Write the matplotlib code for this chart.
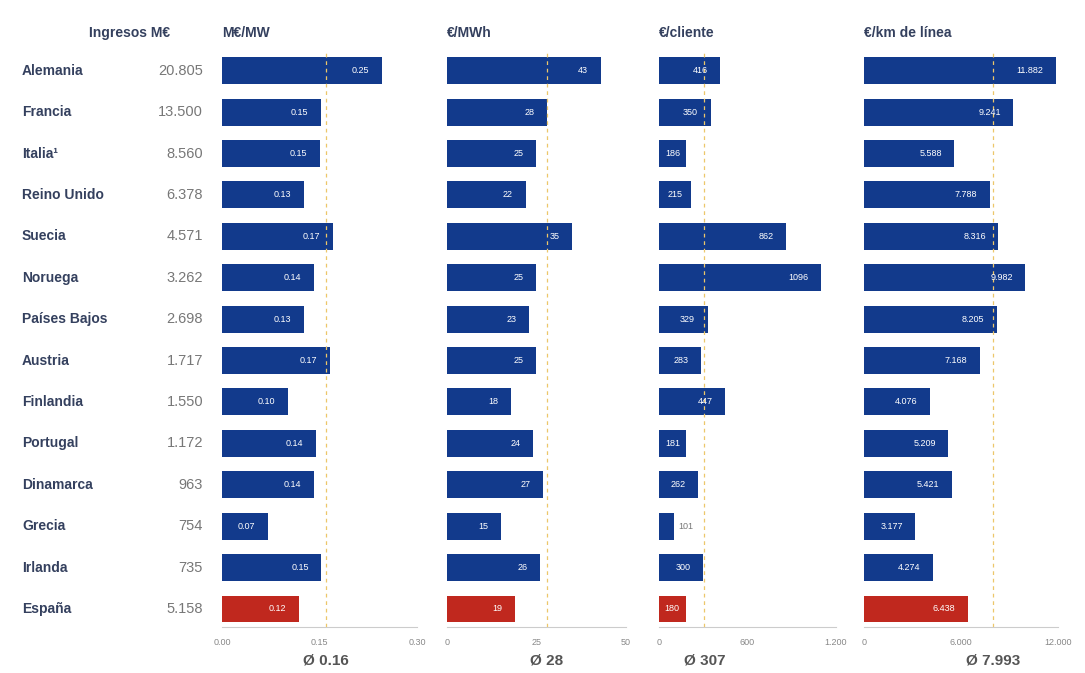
import matplotlib
matplotlib.use("Agg")
import matplotlib.pyplot as plt
import matplotlib.transforms as mtransforms
import numpy as np

plt.rcParams['font.family'] = ['Liberation Sans', 'DejaVu Sans']

## Data
paises = ['Alemania', 'Francia', 'Italia¹', 'Reino Unido', 'Suecia', 'Noruega', 'Países Bajos',
          'Austria', 'Finlandia', 'Portugal', 'Dinamarca', 'Grecia', 'Irlanda', 'España']
ingresos = [20805, 13500, 8560, 6378, 4571, 3262, 2698, 1717, 1550, 1172, 963, 754, 735, 5158]
mw = [0.246, 0.152, 0.150, 0.126, 0.170, 0.141, 0.126, 0.166, 0.101, 0.144, 0.141, 0.070, 0.153, 0.118]
mwh = [43, 28, 25, 22, 35, 25, 23, 25, 18, 24, 27, 15, 26, 19]
cliente = [416, 350, 186, 215, 862, 1096, 329, 283, 447, 181, 262, 101, 300, 180]
km = [11882, 9241, 5588, 7788, 8316, 9982, 8205, 7168, 4076, 5209, 5421, 3177, 4274, 6438]

titulos = ['M€/MW', '€/MWh', '€/cliente', '€/km de línea']
medias = [0.16, 28, 307, 7993]
medias_txt = ['Ø 0.16', 'Ø 28', 'Ø 307', 'Ø 7.993']
xmax = [0.30, 50, 1200, 12000]
ticks = [[0, 0.15, 0.30], [0, 25, 50], [0, 600, 1200], [0, 6000, 12000]]
tick_labels = [['0.00', '0.15', '0.30'], ['0', '25', '50'], ['0', '600', '1.200'], ['0', '6.000', '12.000']]


def miles(v):
    return f"{v:,.0f}".replace(",", ".")


fmts = [lambda v: f"{v:.2f}", lambda v: f"{v:.0f}", lambda v: f"{v:.0f}", miles]
series = [mw, mwh, cliente, km]

W, H = 1085, 673
fig = plt.figure(figsize=(W / 100, H / 100), dpi=100)
fig.patch.set_facecolor('white')

azul = '#123a8c'
rojo = '#c0281e'
texto = '#34405e'
gris = '#777777'

# panel positions in pixels (left, right)
paneles_px = [(222, 417), (447, 625.5), (659, 836), (864, 1058)]
top_px, bot_px = 50, 627

n = len(paises)
y = np.arange(n)
axes = []
for k, (l, r) in enumerate(paneles_px):
    ax = fig.add_axes([l / W, 1 - bot_px / H, (r - l) / W, (bot_px - top_px) / H])
    vals = series[k]
    colors = [rojo if p == 'España' else azul for p in paises]
    ax.barh(y, vals, height=0.65, color=colors, zorder=2)
    ax.set_xlim(0, xmax[k])
    ax.set_ylim(n - 1 + 0.435, -0.5)
    ax.axvline(medias[k], color='#ecc76a', linewidth=0.9, linestyle=(0, (3, 3)), zorder=3)
    for i, v in enumerate(vals):
        lab = fmts[k](v)
        ancho_px = v / xmax[k] * (r - l)
        if k == 2 and paises[i] == 'Grecia':
            ax.annotate(lab, xy=(v, i), xytext=(3, 0), textcoords='offset points',
                        ha='left', va='center', fontsize=6.5, color=gris, zorder=4)
        elif ancho_px < 40:
            # short bar: centre the label
            ax.annotate(lab, xy=(v / 2, i), ha='center', va='center',
                        fontsize=6.5, color='white', zorder=4)
        else:
            ax.annotate(lab, xy=(v, i), xytext=(-9, 0), textcoords='offset points',
                        ha='right', va='center', fontsize=6.5, color='white', zorder=4)
    for s in ['top', 'right', 'left']:
        ax.spines[s].set_visible(False)
    ax.spines['bottom'].set_color('#cccccc')
    ax.set_yticks([])
    ax.set_xticks(ticks[k])
    ax.set_xticklabels(tick_labels[k])
    ax.tick_params(axis='x', length=0, labelsize=6.5, labelcolor='#888888', pad=8)
    ax.annotate(medias_txt[k], xy=(medias[k], 0), xycoords=('data', 'axes fraction'),
                xytext=(0, -24), textcoords='offset points', ha='center', va='center',
                fontsize=11, fontweight='bold', color='#555555')
    fig.text(l / W, 1 - 33 / H, titulos[k], ha='left', va='center',
             fontsize=10, fontweight='bold', color=texto)
    axes.append(ax)

# country names and revenue column
trans = mtransforms.blended_transform_factory(fig.transFigure, axes[0].transData)
fig.text(170 / W, 1 - 33 / H, 'Ingresos M€', ha='right', va='center',
         fontsize=10, fontweight='bold', color=texto)
for i, p in enumerate(paises):
    fig.text(22 / W, i, p, transform=trans, ha='left', va='center',
             fontsize=10, fontweight='bold', color=texto)
    fig.text(203 / W, i, miles(ingresos[i]), transform=trans, ha='right', va='center',
             fontsize=10.5, color=gris)

plt.savefig("out.png", dpi=100, facecolor='white')
